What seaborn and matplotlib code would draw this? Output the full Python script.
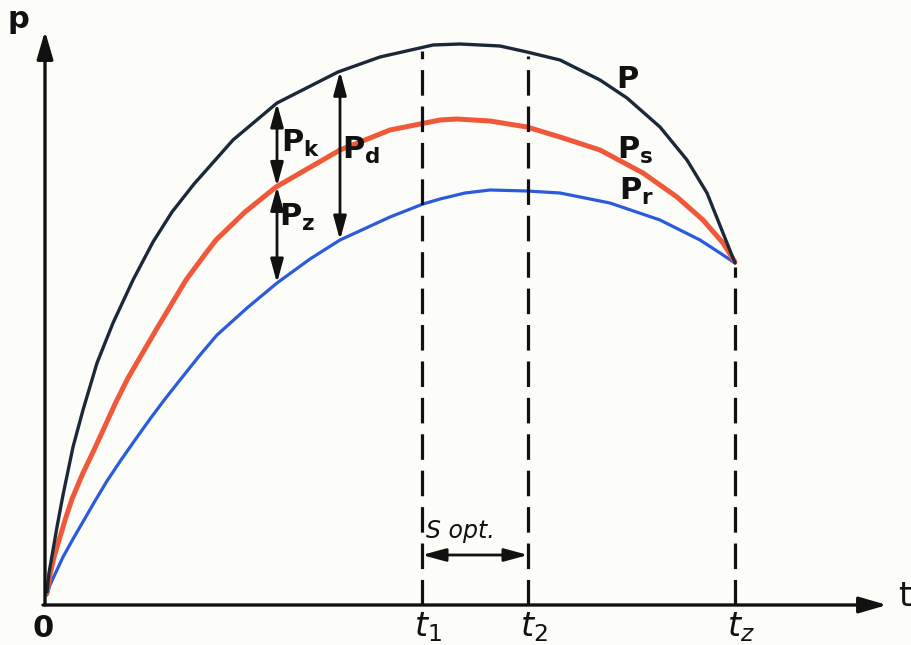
import matplotlib
matplotlib.use("Agg")

import matplotlib.pyplot as plt
import numpy as np
import pandas as pd
import seaborn as sns

# curve readings (t along axis, p height), same units for both
t_P = [2, 4, 8, 12, 18, 28, 38, 52, 68, 88, 108, 127, 149, 188, 232, 293, 335, 388,
       415, 455, 482, 515, 555, 582, 615, 642, 662, 678, 690]
p_P = [13, 32, 55, 78, 110, 158, 195, 242, 282, 325, 363, 393, 421, 465, 502, 533, 548, 560,
       561, 559, 553, 545, 525, 507, 478, 445, 412, 372, 342]

t_Ps = [2, 5, 9, 15, 21, 27, 38, 49, 71, 83, 111, 141, 161, 171, 200, 231, 295, 345,
        395, 412, 445, 482, 515, 555, 598, 632, 658, 678, 690]
p_Ps = [12, 30, 48, 68, 88, 106, 132, 155, 203, 227, 275, 325, 352, 365, 393, 418, 455, 475,
        485, 486, 484, 478, 468, 455, 432, 408, 385, 362, 343]

t_Pr = [2, 5, 11, 18, 28, 39, 50, 62, 76, 90, 105, 120, 135, 155, 172, 202, 232, 265,
        295, 345, 378, 395, 420, 445, 482, 515, 565, 615, 655, 675, 690]
p_Pr = [10, 20, 33, 48, 66, 85, 104, 124, 145, 165, 186, 206, 225, 250, 270, 297, 322, 346,
        365, 388, 401, 406, 412, 415, 414, 412, 402, 385, 365, 352, 342]

# marked instants on the t axis
t_marks = [377, 483, 690]
t_labels = ["$t_1$", "$t_2$", "$t_z$"]
t_k = 232   # P_k / P_z arrows
t_d = 295   # P_d arrow

INK = "#111111"
C_P = "#1b2838"
C_PS = "#f0583a"
C_PR = "#2a5bdc"

sns.set_theme(style="white")
plt.rcParams["mathtext.fontset"] = "dejavusans"
plt.rcParams["font.family"] = ["DejaVu Sans"]

fig = plt.figure(figsize=(9.11, 6.45), dpi=100, facecolor="#fcfcf9")
ax = fig.add_axes([0, 0, 1, 1])
ax.set_facecolor("#fcfcf9")

df = pd.concat([
    pd.DataFrame({"t": t_P, "p": p_P, "curve": "P"}),
    pd.DataFrame({"t": t_Ps, "p": p_Ps, "curve": "Ps"}),
    pd.DataFrame({"t": t_Pr, "p": p_Pr, "curve": "Pr"}),
])
for name, color, lw in [("Pr", C_PR, 2.3), ("Ps", C_PS, 3.6), ("P", C_P, 2.4)]:
    sns.lineplot(data=df[df.curve == name], x="t", y="p", color=color,
                 lw=lw, ax=ax, legend=False, solid_joinstyle="round")

ax.set_xlim(-45, 866)
ax.set_ylim(-40, 605)
ax.axis("off")

# axes with arrow heads
arrow_kw = dict(arrowstyle="-|>,head_length=1.2,head_width=0.35", color=INK,
                lw=2.4, mutation_scale=14, shrinkA=0, shrinkB=0)
ax.annotate("", xy=(0, 574), xytext=(0, 0), arrowprops=arrow_kw)
ax.annotate("", xy=(842, 0), xytext=(-2, 0), arrowprops=arrow_kw)

# dashed verticals at t1, t2, tz
for tm in t_marks:
    top = np.interp(tm, t_P, p_P)
    ax.plot([tm, tm], [0, top - 4], color=INK, lw=2.3,
            linestyle=(0, (8, 3.4)), solid_capstyle="butt")

# double arrows between curves
dbl = dict(arrowstyle="<|-|>,head_length=1.1,head_width=0.3", color=INK,
           lw=2.0, mutation_scale=13, shrinkA=0, shrinkB=0)
pk_top = np.interp(t_k, t_P, p_P)
pk_mid = np.interp(t_k, t_Ps, p_Ps)
pk_bot = np.interp(t_k, t_Pr, p_Pr)
ax.annotate("", xy=(t_k, pk_top), xytext=(t_k, pk_mid), arrowprops=dbl)
ax.annotate("", xy=(t_k, pk_mid), xytext=(t_k, pk_bot), arrowprops=dbl)
ax.annotate("", xy=(t_d, np.interp(t_d, t_P, p_P)),
            xytext=(t_d, np.interp(t_d, t_Pr, p_Pr)), arrowprops=dbl)

# S opt span
ax.annotate("", xy=(t_marks[0], 50), xytext=(t_marks[1], 50), arrowprops=dbl)
ax.text(t_marks[0] + 4, 62, "S opt.", fontsize=17, style="italic",
        ha="left", va="bottom", color=INK)

# labels
lab = dict(fontsize=22, fontweight="bold", color=INK, ha="center")
ax.text(-27, 585, "p", va="center", **lab)
ax.text(860, 8, "t", fontsize=24, color=INK, ha="center", va="center")
ax.text(-2, -38, "0", va="bottom", **lab)
for tm, tl in zip(t_marks, t_labels):
    ax.text(tm + 6, -39, tl, fontsize=24, style="italic", color=INK,
            ha="center", va="bottom")

ax.text(583, 525, r"$\mathbf{P}$", fontsize=22, color=INK, ha="center", va="center")
ax.text(590, 455, r"$\mathbf{P_s}$", fontsize=22, color=INK, ha="center", va="center")
ax.text(592, 414, r"$\mathbf{P_r}$", fontsize=22, color=INK, ha="center", va="center")
ax.text(256, 462, r"$\mathbf{P_k}$", fontsize=22, color=INK, ha="center", va="center")
ax.text(316, 455, r"$\mathbf{P_d}$", fontsize=22, color=INK, ha="center", va="center")
ax.text(252, 388, r"$\mathbf{P_z}$", fontsize=22, color=INK, ha="center", va="center")

fig.savefig("out.png", dpi=100, facecolor=fig.get_facecolor())
